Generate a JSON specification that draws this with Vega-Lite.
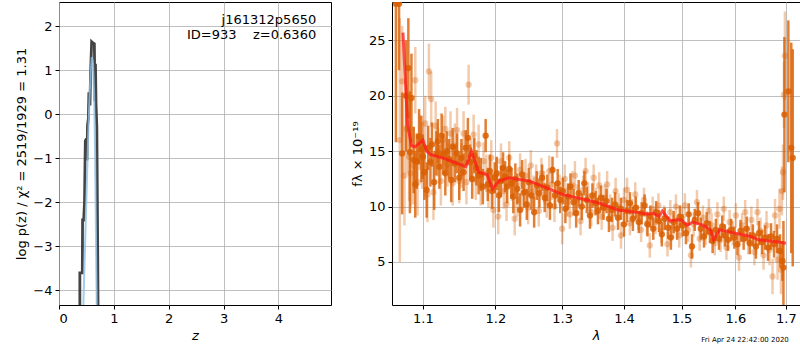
{
  "$schema": "https://vega.github.io/schema/vega-lite/v6.json",
  "padding": {"top": 1, "left": 15, "right": 1, "bottom": 5},
  "spacing": 18,
  "config": {
    "font": "DejaVu Sans",
    "view": {"stroke": "black", "strokeWidth": 1},
    "axis": {"gridColor": "#b0b0b0", "gridWidth": 0.8, "domain": false, "tickColor": "black", "tickSize": 4, "labelFontSize": 13, "titleFontSize": 13, "labelColor": "black", "titleColor": "black", "titleFontWeight": "normal", "labelPadding": 3, "labelFont": "DejaVu Sans", "titleFont": "DejaVu Sans"}
  },
  "datasets": {
    "pz": [
      {"i":1,"z":0.38,"y":-5},{"i":2,"z":0.38,"y":-3.6},{"i":3,"z":0.425,"y":-3.6},{"i":4,"z":0.43,"y":-2.4},{"i":5,"z":0.45,"y":-2.4},{"i":6,"z":0.465,"y":-2.0},{"i":7,"z":0.48,"y":-0.6},{"i":8,"z":0.5,"y":-0.55},{"i":9,"z":0.51,"y":-1.05},{"i":10,"z":0.52,"y":-0.25},{"i":11,"z":0.535,"y":-0.1},{"i":12,"z":0.545,"y":0.5},{"i":13,"z":0.565,"y":0.2},{"i":14,"z":0.575,"y":0.9},{"i":15,"z":0.595,"y":1.65},{"i":16,"z":0.62,"y":1.62},{"i":17,"z":0.645,"y":1.6},{"i":18,"z":0.655,"y":0.3},{"i":19,"z":0.665,"y":1.15},{"i":20,"z":0.675,"y":0.25},{"i":21,"z":0.69,"y":-0.3},{"i":22,"z":0.705,"y":-2.95},{"i":23,"z":0.715,"y":-5}
    ],
    "pzfit": [
      {"i":1,"z":0.44,"y":-4.5},{"i":2,"z":0.47,"y":-3.2},{"i":3,"z":0.5,"y":-1.9},{"i":4,"z":0.52,"y":-1.0},{"i":5,"z":0.54,"y":-0.2},{"i":6,"z":0.56,"y":0.5},{"i":7,"z":0.58,"y":1.0},{"i":8,"z":0.6,"y":1.3},{"i":9,"z":0.62,"y":1.15},{"i":10,"z":0.64,"y":0.5},{"i":11,"z":0.66,"y":-1.0},{"i":12,"z":0.68,"y":-3.5},{"i":13,"z":0.69,"y":-4.5}
    ],
    "labels": [
      {"z":4.69,"y":2.13,"t":"j161312p5650"},
      {"z":4.69,"y":1.79,"t":"ID=933\u00a0\u00a0\u00a0\u00a0z=0.6360"}
    ],
    "dark": [
      {"l":1.065,"f":28.3,"e":12.5},{"l":1.069,"f":28.3,"e":6},{"l":1.073,"f":14.8,"e":5.5},{"l":1.078,"f":20.0,"e":5},{"l":1.081,"f":22.5,"e":4.5},{"l":1.083,"f":14.9,"e":5.5},{"l":1.085,"f":19.8,"e":4},{"l":1.088,"f":14.2,"e":3},{"l":1.09,"f":12.0,"e":3},{"l":1.092,"f":14.1,"e":2.5},{"l":1.095,"f":16.3,"e":2.5},{"l":1.098,"f":15.2,"e":3},{"l":1.1,"f":14.5,"e":2},{"l":1.102,"f":13.1,"e":2.5},{"l":1.105,"f":11.5,"e":2.5},{"l":1.107,"f":15.3,"e":2},{"l":1.11,"f":14.0,"e":2.2},{"l":1.112,"f":15.6,"e":2},{"l":1.115,"f":12.2,"e":2.5},{"l":1.118,"f":14.8,"e":2},{"l":1.12,"f":15.9,"e":2},{"l":1.122,"f":13.6,"e":2},{"l":1.125,"f":16.4,"e":2},{"l":1.127,"f":14.7,"e":1.8},{"l":1.13,"f":13.0,"e":2},{"l":1.132,"f":15.0,"e":1.8},{"l":1.135,"f":14.3,"e":1.8},{"l":1.138,"f":12.4,"e":2},{"l":1.14,"f":15.4,"e":1.7},{"l":1.143,"f":13.9,"e":1.7},{"l":1.146,"f":14.8,"e":1.8},{"l":1.149,"f":12.6,"e":2},{"l":1.152,"f":14.4,"e":1.7},{"l":1.155,"f":13.1,"e":1.7},{"l":1.158,"f":15.3,"e":1.6},{"l":1.161,"f":16.2,"e":1.8},{"l":1.164,"f":14.0,"e":1.6},{"l":1.167,"f":12.5,"e":1.8},{"l":1.17,"f":14.6,"e":1.6},{"l":1.173,"f":13.5,"e":1.6},{"l":1.176,"f":12.8,"e":1.7},{"l":1.179,"f":12.9,"e":1.5},{"l":1.182,"f":11.8,"e":1.6},{"l":1.186,"f":16.4,"e":1.5},{"l":1.189,"f":12.0,"e":1.5},{"l":1.192,"f":13.2,"e":1.5},{"l":1.195,"f":11.4,"e":1.6},{"l":1.199,"f":12.6,"e":1.4},{"l":1.202,"f":13.0,"e":1.5},{"l":1.205,"f":11.0,"e":1.5},{"l":1.208,"f":12.3,"e":1.4},{"l":1.211,"f":13.5,"e":1.4},{"l":1.214,"f":12.7,"e":1.4},{"l":1.217,"f":11.8,"e":1.5},{"l":1.22,"f":13.4,"e":1.3},{"l":1.223,"f":12.1,"e":1.4},{"l":1.226,"f":10.9,"e":1.5},{"l":1.229,"f":12.5,"e":1.4},{"l":1.232,"f":11.6,"e":1.4},{"l":1.236,"f":9.7,"e":1.5},{"l":1.239,"f":12.9,"e":1.3},{"l":1.242,"f":11.3,"e":1.4},{"l":1.246,"f":10.2,"e":1.4},{"l":1.249,"f":12.2,"e":1.3},{"l":1.253,"f":11.0,"e":1.3},{"l":1.257,"f":9.5,"e":1.4},{"l":1.261,"f":11.9,"e":1.3},{"l":1.265,"f":11.2,"e":1.3},{"l":1.269,"f":12.6,"e":1.2},{"l":1.273,"f":10.8,"e":1.3},{"l":1.277,"f":11.7,"e":1.2},{"l":1.281,"f":10.1,"e":1.3},{"l":1.285,"f":13.3,"e":1.2},{"l":1.289,"f":11.0,"e":1.2},{"l":1.293,"f":12.1,"e":1.3},{"l":1.297,"f":10.6,"e":1.2},{"l":1.301,"f":11.4,"e":1.2},{"l":1.305,"f":9.8,"e":1.3},{"l":1.309,"f":10.9,"e":1.2},{"l":1.313,"f":11.8,"e":1.2},{"l":1.318,"f":10.4,"e":1.2},{"l":1.322,"f":9.4,"e":1.3},{"l":1.326,"f":11.2,"e":1.2},{"l":1.331,"f":10.0,"e":1.2},{"l":1.335,"f":12.1,"e":1.1},{"l":1.339,"f":10.6,"e":1.2},{"l":1.344,"f":9.2,"e":1.2},{"l":1.348,"f":11.0,"e":1.1},{"l":1.353,"f":10.3,"e":1.1},{"l":1.357,"f":9.6,"e":1.2},{"l":1.362,"f":10.8,"e":1.1},{"l":1.366,"f":9.9,"e":1.1},{"l":1.371,"f":10.5,"e":1.1},{"l":1.375,"f":8.9,"e":1.2},{"l":1.38,"f":9.7,"e":1.1},{"l":1.385,"f":10.2,"e":1.1},{"l":1.39,"f":9.0,"e":1.1},{"l":1.395,"f":9.8,"e":1.0},{"l":1.4,"f":8.4,"e":1.1},{"l":1.405,"f":9.6,"e":1.0},{"l":1.41,"f":10.3,"e":1.0},{"l":1.415,"f":8.9,"e":1.1},{"l":1.42,"f":9.9,"e":1.0},{"l":1.425,"f":8.6,"e":1.0},{"l":1.43,"f":9.4,"e":1.0},{"l":1.435,"f":10.1,"e":1.0},{"l":1.44,"f":8.4,"e":1.1},{"l":1.445,"f":9.1,"e":1.0},{"l":1.45,"f":8.0,"e":1.0},{"l":1.455,"f":9.5,"e":1.0},{"l":1.46,"f":8.7,"e":1.0},{"l":1.465,"f":7.5,"e":1.1},{"l":1.47,"f":8.9,"e":1.0},{"l":1.476,"f":8.1,"e":1.0},{"l":1.481,"f":7.2,"e":1.1},{"l":1.486,"f":8.6,"e":1.0},{"l":1.492,"f":8.0,"e":1.0},{"l":1.497,"f":9.1,"e":1.0},{"l":1.502,"f":8.3,"e":1.0},{"l":1.508,"f":7.6,"e":1.0},{"l":1.513,"f":9.3,"e":1.0},{"l":1.519,"f":6.4,"e":1.1},{"l":1.524,"f":8.8,"e":1.0},{"l":1.53,"f":9.4,"e":1.0},{"l":1.535,"f":8.0,"e":1.0},{"l":1.541,"f":7.3,"e":1.0},{"l":1.546,"f":8.5,"e":1.0},{"l":1.552,"f":7.7,"e":1.0},{"l":1.557,"f":6.9,"e":1.1},{"l":1.563,"f":7.9,"e":1.0},{"l":1.569,"f":7.1,"e":1.0},{"l":1.575,"f":8.2,"e":1.0},{"l":1.58,"f":7.4,"e":1.0},{"l":1.586,"f":7.0,"e":1.0},{"l":1.592,"f":7.9,"e":1.0},{"l":1.598,"f":7.2,"e":1.0},{"l":1.604,"f":6.6,"e":1.0},{"l":1.61,"f":7.8,"e":1.0},{"l":1.616,"f":7.1,"e":1.0},{"l":1.622,"f":8.0,"e":1.1},{"l":1.628,"f":6.7,"e":1.0},{"l":1.634,"f":7.4,"e":1.0},{"l":1.64,"f":6.4,"e":1.1},{"l":1.646,"f":7.6,"e":1.1},{"l":1.652,"f":6.8,"e":1.1},{"l":1.658,"f":7.2,"e":1.1},{"l":1.664,"f":6.3,"e":1.2},{"l":1.67,"f":7.3,"e":1.2},{"l":1.676,"f":6.6,"e":1.2},{"l":1.682,"f":7.1,"e":1.3},{"l":1.688,"f":6.0,"e":1.5},{"l":1.693,"f":5.1,"e":1.8},{"l":1.695,"f":4.5,"e":4.2},{"l":1.697,"f":18.3,"e":7},{"l":1.705,"f":20.4,"e":6.4},{"l":1.711,"f":15.3,"e":9.5},{"l":1.714,"f":14.4,"e":9.8}
    ],
    "light": [
      {"l":1.07,"f":16.0,"e":11},{"l":1.073,"f":21.3,"e":5},{"l":1.076,"f":12.8,"e":4.5},{"l":1.079,"f":17.0,"e":4},{"l":1.082,"f":14.5,"e":4},{"l":1.084,"f":13.0,"e":3},{"l":1.087,"f":13.7,"e":3.5},{"l":1.09,"f":21.4,"e":3},{"l":1.093,"f":12.2,"e":3},{"l":1.096,"f":15.8,"e":2.5},{"l":1.099,"f":14.6,"e":3},{"l":1.103,"f":17.5,"e":2.5},{"l":1.106,"f":11.1,"e":2.5},{"l":1.108,"f":22.2,"e":2.5},{"l":1.111,"f":19.7,"e":2.5},{"l":1.114,"f":11.3,"e":2.5},{"l":1.117,"f":17.3,"e":2.2},{"l":1.12,"f":14.9,"e":2.2},{"l":1.124,"f":12.3,"e":2.2},{"l":1.127,"f":16.0,"e":2.2},{"l":1.13,"f":17.0,"e":2},{"l":1.133,"f":13.8,"e":2},{"l":1.137,"f":16.6,"e":2},{"l":1.14,"f":12.1,"e":2},{"l":1.143,"f":15.5,"e":2},{"l":1.146,"f":16.9,"e":2},{"l":1.149,"f":12.3,"e":2},{"l":1.152,"f":13.7,"e":2},{"l":1.155,"f":16.6,"e":2},{"l":1.159,"f":12.2,"e":2},{"l":1.162,"f":21.0,"e":1.8},{"l":1.165,"f":14.2,"e":2},{"l":1.169,"f":16.5,"e":1.8},{"l":1.172,"f":12.4,"e":1.8},{"l":1.176,"f":15.6,"e":1.8},{"l":1.179,"f":11.9,"e":1.8},{"l":1.183,"f":14.1,"e":1.7},{"l":1.187,"f":13.0,"e":1.7},{"l":1.19,"f":11.6,"e":1.7},{"l":1.194,"f":14.4,"e":1.6},{"l":1.197,"f":9.7,"e":1.6},{"l":1.201,"f":12.8,"e":1.6},{"l":1.204,"f":9.1,"e":1.6},{"l":1.208,"f":14.1,"e":1.6},{"l":1.212,"f":11.4,"e":1.6},{"l":1.216,"f":10.2,"e":1.5},{"l":1.22,"f":14.4,"e":1.5},{"l":1.224,"f":12.0,"e":1.5},{"l":1.228,"f":8.9,"e":1.5},{"l":1.232,"f":10.6,"e":1.5},{"l":1.236,"f":13.3,"e":1.5},{"l":1.24,"f":11.2,"e":1.5},{"l":1.244,"f":12.8,"e":1.5},{"l":1.248,"f":9.9,"e":1.5},{"l":1.252,"f":13.7,"e":1.4},{"l":1.256,"f":11.4,"e":1.4},{"l":1.26,"f":12.4,"e":1.4},{"l":1.264,"f":9.6,"e":1.4},{"l":1.268,"f":13.0,"e":1.4},{"l":1.272,"f":11.8,"e":1.4},{"l":1.276,"f":10.4,"e":1.4},{"l":1.28,"f":13.2,"e":1.4},{"l":1.284,"f":12.0,"e":1.4},{"l":1.288,"f":10.0,"e":1.4},{"l":1.292,"f":15.7,"e":1.3},{"l":1.296,"f":11.5,"e":1.4},{"l":1.3,"f":8.0,"e":1.4},{"l":1.304,"f":12.5,"e":1.3},{"l":1.308,"f":10.4,"e":1.3},{"l":1.312,"f":9.3,"e":1.3},{"l":1.316,"f":11.9,"e":1.3},{"l":1.32,"f":12.8,"e":1.3},{"l":1.324,"f":10.7,"e":1.3},{"l":1.329,"f":8.7,"e":1.3},{"l":1.333,"f":11.5,"e":1.3},{"l":1.337,"f":13.2,"e":1.2},{"l":1.341,"f":10.9,"e":1.3},{"l":1.346,"f":9.5,"e":1.3},{"l":1.35,"f":12.6,"e":1.2},{"l":1.354,"f":10.5,"e":1.2},{"l":1.359,"f":11.9,"e":1.2},{"l":1.363,"f":9.1,"e":1.2},{"l":1.368,"f":10.8,"e":1.2},{"l":1.372,"f":12.0,"e":1.2},{"l":1.377,"f":9.9,"e":1.2},{"l":1.381,"f":8.1,"e":1.2},{"l":1.386,"f":11.4,"e":1.2},{"l":1.391,"f":10.0,"e":1.2},{"l":1.395,"f":7.4,"e":1.2},{"l":1.4,"f":10.6,"e":1.1},{"l":1.405,"f":11.5,"e":1.1},{"l":1.41,"f":8.5,"e":1.1},{"l":1.414,"f":9.6,"e":1.1},{"l":1.419,"f":11.1,"e":1.1},{"l":1.424,"f":9.0,"e":1.1},{"l":1.429,"f":7.9,"e":1.1},{"l":1.434,"f":10.6,"e":1.1},{"l":1.439,"f":8.5,"e":1.1},{"l":1.444,"f":6.5,"e":1.1},{"l":1.449,"f":9.8,"e":1.1},{"l":1.454,"f":8.6,"e":1.1},{"l":1.459,"f":10.1,"e":1.1},{"l":1.464,"f":7.8,"e":1.1},{"l":1.469,"f":9.0,"e":1.1},{"l":1.475,"f":6.6,"e":1.1},{"l":1.48,"f":9.5,"e":1.1},{"l":1.485,"f":8.2,"e":1.1},{"l":1.49,"f":10.0,"e":1.1},{"l":1.496,"f":7.4,"e":1.1},{"l":1.501,"f":8.9,"e":1.1},{"l":1.506,"f":10.1,"e":1.1},{"l":1.512,"f":7.9,"e":1.1},{"l":1.517,"f":5.6,"e":1.1},{"l":1.522,"f":8.4,"e":1.1},{"l":1.528,"f":10.4,"e":1.1},{"l":1.533,"f":7.1,"e":1.1},{"l":1.539,"f":9.0,"e":1.1},{"l":1.544,"f":7.6,"e":1.1},{"l":1.55,"f":9.6,"e":1.1},{"l":1.555,"f":8.3,"e":1.1},{"l":1.561,"f":6.7,"e":1.1},{"l":1.566,"f":9.3,"e":1.1},{"l":1.572,"f":7.0,"e":1.1},{"l":1.578,"f":9.8,"e":1.1},{"l":1.583,"f":6.3,"e":1.1},{"l":1.589,"f":8.6,"e":1.1},{"l":1.595,"f":7.6,"e":1.1},{"l":1.601,"f":9.2,"e":1.1},{"l":1.607,"f":5.4,"e":1.2},{"l":1.613,"f":8.3,"e":1.1},{"l":1.619,"f":9.5,"e":1.1},{"l":1.625,"f":6.9,"e":1.2},{"l":1.631,"f":8.8,"e":1.2},{"l":1.637,"f":5.9,"e":1.2},{"l":1.643,"f":9.5,"e":1.2},{"l":1.649,"f":7.8,"e":1.2},{"l":1.655,"f":5.6,"e":1.3},{"l":1.661,"f":8.3,"e":1.3},{"l":1.667,"f":6.1,"e":1.4},{"l":1.673,"f":3.7,"e":1.6},{"l":1.678,"f":9.2,"e":1.5},{"l":1.683,"f":5.2,"e":1.8},{"l":1.687,"f":9.8,"e":1.8},{"l":1.69,"f":4.3,"e":2.2},{"l":1.692,"f":11.4,"e":2.2},{"l":1.694,"f":13.1,"e":2.5},{"l":1.696,"f":20.1,"e":3},{"l":1.698,"f":23.6,"e":4}
    ],
    "model": [
      {"l":1.074,"f":25.7},{"l":1.08,"f":17.4},{"l":1.085,"f":15.5},{"l":1.09,"f":15.4},{"l":1.1,"f":16.0},{"l":1.105,"f":15.0},{"l":1.11,"f":14.7},{"l":1.13,"f":14.3},{"l":1.15,"f":13.8},{"l":1.158,"f":13.6},{"l":1.166,"f":15.0},{"l":1.176,"f":13.1},{"l":1.188,"f":12.9},{"l":1.196,"f":11.6},{"l":1.205,"f":12.3},{"l":1.22,"f":12.6},{"l":1.25,"f":12.3},{"l":1.28,"f":11.6},{"l":1.3,"f":11.1},{"l":1.33,"f":10.7},{"l":1.36,"f":10.3},{"l":1.39,"f":9.7},{"l":1.42,"f":9.5},{"l":1.44,"f":9.3},{"l":1.45,"f":9.4},{"l":1.46,"f":9.1},{"l":1.466,"f":9.6},{"l":1.48,"f":8.7},{"l":1.49,"f":8.8},{"l":1.5,"f":8.8},{"l":1.51,"f":8.3},{"l":1.52,"f":8.6},{"l":1.54,"f":8.3},{"l":1.553,"f":7.9},{"l":1.559,"f":7.0},{"l":1.57,"f":7.9},{"l":1.6,"f":7.6},{"l":1.63,"f":7.3},{"l":1.645,"f":7.0},{"l":1.67,"f":6.9},{"l":1.7,"f":6.7}
    ],
    "stamp": [{"l":1.706,"f":-2.0,"t":"Fri Apr 24 22:42:00 2020"}]
  },
  "hconcat": [
    {
      "width": 272,
      "height": 303,
      "encoding": {
        "x": {"field": "z", "type": "quantitative", "scale": {"domain": [0, 4.96], "nice": false, "zero": false}, "axis": {"values": [0, 1, 2, 3, 4], "title": "z", "titleFontStyle": "italic", "format": "d"}},
        "y": {"field": "y", "type": "quantitative", "scale": {"domain": [-4.33, 2.55], "nice": false, "zero": false}, "axis": {"values": [-4, -3, -2, -1, 0, 1, 2], "title": "log p(z) / χ² = 2519/1929 = 1.31", "format": "d"}}
      },
      "layer": [
        {
          "data": {"name": "pz"},
          "mark": {"type": "line", "color": "#3a3a3a", "strokeWidth": 2.8, "opacity": 0.95, "clip": true},
          "encoding": {"order": {"field": "i"}}
        },
        {
          "data": {"name": "pzfit"},
          "mark": {"type": "line", "color": "#8ec0e4", "strokeWidth": 2, "opacity": 0.8, "clip": true},
          "encoding": {"order": {"field": "i"}}
        },
        {
          "data": {"name": "labels"},
          "mark": {"type": "text", "align": "right", "baseline": "middle", "fontSize": 13, "color": "black"},
          "encoding": {"text": {"field": "t"}}
        }
      ]
    },
    {
      "width": 408,
      "height": 303,
      "encoding": {
        "x": {"field": "l", "type": "quantitative", "scale": {"type": "log", "domain": [1.06, 1.729], "nice": false, "zero": false}, "axis": {"values": [1.1, 1.2, 1.3, 1.4, 1.5, 1.6, 1.7], "format": ".1f", "title": "λ", "titleFontStyle": "italic"}},
        "y": {"field": "f", "type": "quantitative", "scale": {"domain": [1.12, 28.46], "nice": false, "zero": false}, "axis": {"values": [5, 10, 15, 20, 25], "title": "fλ × 10⁻¹⁹"}}
      },
      "layer": [
        {
          "data": {"name": "light"},
          "mark": {"type": "errorbar", "color": "#d95f02", "opacity": 0.33, "thickness": 2.5, "clip": true},
          "encoding": {"yError": {"field": "e"}}
        },
        {
          "data": {"name": "light"},
          "mark": {"type": "circle", "color": "#d95f02", "opacity": 0.33, "size": 40, "clip": true}
        },
        {
          "data": {"name": "dark"},
          "mark": {"type": "errorbar", "color": "#d95f02", "opacity": 0.8, "thickness": 2.5, "clip": true},
          "encoding": {"yError": {"field": "e"}}
        },
        {
          "data": {"name": "dark"},
          "mark": {"type": "circle", "color": "#d95f02", "opacity": 0.85, "size": 40, "clip": true}
        },
        {
          "data": {"name": "model"},
          "mark": {"type": "line", "color": "#ff1a1a", "strokeWidth": 3, "opacity": 0.75, "clip": true}
        },
        {
          "data": {"name": "stamp"},
          "mark": {"type": "text", "align": "right", "baseline": "middle", "fontSize": 7, "color": "black"},
          "encoding": {"text": {"field": "t"}}
        }
      ]
    }
  ]
}
